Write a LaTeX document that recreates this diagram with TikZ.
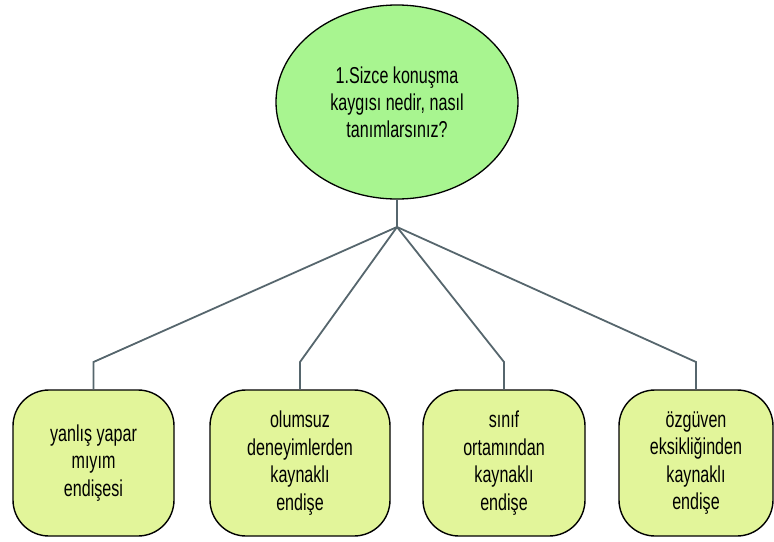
\documentclass[tikz,border=0pt]{standalone}
\usepackage{fontspec}
\setmainfont{Liberation Sans}[FakeStretch=0.7]
\usetikzlibrary{shapes.geometric}
\definecolor{ellfill}{HTML}{A8F590}
\definecolor{boxfill}{HTML}{E2F59A}
\definecolor{linecol}{HTML}{56666D}
\tikzset{
  boxnode/.style={draw=black, line width=1.4pt, fill=boxfill, rounded corners=36pt,
    minimum height=146pt, align=center, inner sep=0pt,
    font=\fontsize{23}{27.5}\selectfont},
  conn/.style={draw=linecol, line width=1.8pt},
}
\begin{document}
\begin{tikzpicture}[x=1pt,y=-1pt]
\useasboundingbox (0,0) rectangle (774,541);
\node[ellipse, draw=black, line width=1.3pt, fill=ellfill, minimum width=242pt, minimum height=194pt,
  inner sep=0pt, align=center, font=\fontsize{23}{27}\selectfont] (q) at (397,102)
  {1.Sizce konuşma\\kaygısı nedir, nasıl\\tanımlarsınız?};
\node[boxnode, minimum width=161pt] (b1) at (93.5,463) {yanlış yapar\\mıyım\\endişesi};
\node[boxnode, minimum width=180pt] (b2) at (300,463) {olumsuz\\deneyimlerden\\kaynaklı\\endişe};
\node[boxnode, minimum width=162pt] (b3) at (504,463) {sınıf\\ortamından\\kaynaklı\\endişe};
\node[boxnode, minimum width=154pt] (b4) at (696,463) {özgüven\\eksikliğinden\\kaynaklı\\endişe};
\coordinate (j) at (397,227);
\coordinate (k) at (0,362);
\draw[conn] (q.south) -- (j);
\draw[conn] (j) -- (b1.north |- k) -- (b1.north);
\draw[conn] (j) -- (b2.north |- k) -- (b2.north);
\draw[conn] (j) -- (b3.north |- k) -- (b3.north);
\draw[conn] (j) -- (b4.north |- k) -- (b4.north);
\end{tikzpicture}
\end{document}
